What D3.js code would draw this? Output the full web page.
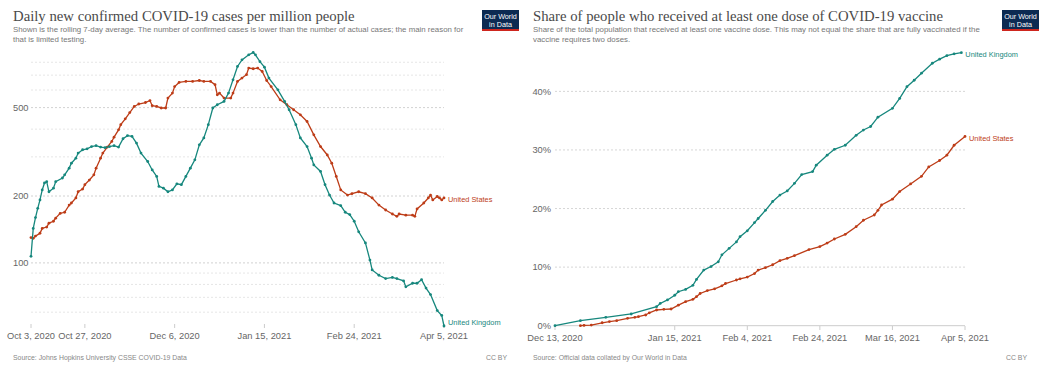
<!DOCTYPE html>
<html>
<head>
<meta charset="utf-8">
<script src="https://cdn.jsdelivr.net/npm/d3@7"></script>
<style>
  body { margin: 0; background: #fff; }
  svg { display: block; }
  text { font-family: "Liberation Sans", Arial, sans-serif; }
  .title { font-family: "Liberation Serif", serif; fill: #4a4a4a; font-size: 15px; }
  .subtitle { fill: #777; font-size: 7.8px; }
  .tick-label { fill: #666; font-size: 9.3px; }
  .source { fill: #888; font-size: 6.9px; }
</style>
</head>
<body>
<svg id="chart" width="1050" height="370"></svg>
<script>
// daily new confirmed cases per million (7-day avg)
const ukCases = [
  ['2020-10-03', 107], ['2020-10-04', 143], ['2020-10-05', 160], ['2020-10-06', 176], ['2020-10-07', 192],
  ['2020-10-08', 213], ['2020-10-09', 229], ['2020-10-10', 232], ['2020-10-11', 209], ['2020-10-13', 217],
  ['2020-10-14', 232], ['2020-10-17', 241], ['2020-10-18', 249], ['2020-10-20', 267], ['2020-10-21', 281],
  ['2020-10-23', 296], ['2020-10-24', 312], ['2020-10-26', 323], ['2020-10-28', 326], ['2020-10-30', 334],
  ['2020-11-01', 337], ['2020-11-03', 332], ['2020-11-05', 330], ['2020-11-07', 334], ['2020-11-09', 337],
  ['2020-11-11', 332], ['2020-11-13', 362], ['2020-11-15', 374], ['2020-11-17', 371], ['2020-11-19', 346],
  ['2020-11-21', 312], ['2020-11-24', 286], ['2020-11-26', 262], ['2020-11-28', 245], ['2020-11-29', 221],
  ['2020-12-01', 217], ['2020-12-03', 209], ['2020-12-05', 213], ['2020-12-07', 227], ['2020-12-09', 225],
  ['2020-12-11', 245], ['2020-12-13', 267], ['2020-12-15', 291], ['2020-12-17', 340], ['2020-12-19', 365],
  ['2020-12-21', 419], ['2020-12-23', 498], ['2020-12-25', 515], ['2020-12-28', 533], ['2020-12-30', 581],
  ['2021-01-01', 667], ['2021-01-03', 766], ['2021-01-05', 820], ['2021-01-08', 864], ['2021-01-10', 885],
  ['2021-01-11', 864], ['2021-01-13', 805], ['2021-01-15', 760], ['2021-01-17', 679], ['2021-01-21', 601],
  ['2021-01-24', 533], ['2021-01-26', 489], ['2021-01-29', 419], ['2021-01-31', 365], ['2021-02-03', 334],
  ['2021-02-05', 296], ['2021-02-06', 276], ['2021-02-09', 258], ['2021-02-11', 225], ['2021-02-13', 202],
  ['2021-02-15', 186], ['2021-02-18', 181], ['2021-02-20', 169], ['2021-02-22', 165], ['2021-02-24', 154],
  ['2021-02-26', 138], ['2021-03-01', 123], ['2021-03-03', 103], ['2021-03-04', 93], ['2021-03-07', 88],
  ['2021-03-10', 85], ['2021-03-13', 86], ['2021-03-15', 85], ['2021-03-18', 83], ['2021-03-19', 78],
  ['2021-03-22', 81], ['2021-03-24', 81], ['2021-03-26', 84], ['2021-03-28', 77], ['2021-03-30', 72],
  ['2021-04-02', 61], ['2021-04-04', 58], ['2021-04-05', 52]
];

const usCases = [
  ['2020-10-03', 130], ['2020-10-04', 129], ['2020-10-05', 132], ['2020-10-07', 136], ['2020-10-08', 143],
  ['2020-10-10', 145], ['2020-10-11', 151], ['2020-10-13', 154], ['2020-10-14', 159], ['2020-10-16', 167],
  ['2020-10-18', 169], ['2020-10-20', 182], ['2020-10-21', 186], ['2020-10-23', 196], ['2020-10-24', 209],
  ['2020-10-26', 215], ['2020-10-27', 225], ['2020-10-29', 236], ['2020-10-31', 249], ['2020-11-01', 267],
  ['2020-11-03', 296], ['2020-11-04', 312], ['2020-11-06', 332], ['2020-11-08', 352], ['2020-11-09', 368],
  ['2020-11-11', 397], ['2020-11-12', 419], ['2020-11-14', 445], ['2020-11-16', 475], ['2020-11-18', 506],
  ['2020-11-20', 519], ['2020-11-23', 527], ['2020-11-25', 538], ['2020-11-26', 510], ['2020-11-28', 506],
  ['2020-11-30', 498], ['2020-12-02', 498], ['2020-12-03', 552], ['2020-12-05', 581], ['2020-12-06', 622],
  ['2020-12-08', 649], ['2020-12-11', 656], ['2020-12-14', 656], ['2020-12-17', 662], ['2020-12-19', 656],
  ['2020-12-22', 656], ['2020-12-24', 634], ['2020-12-25', 571], ['2020-12-26', 581], ['2020-12-28', 552],
  ['2020-12-31', 552], ['2021-01-01', 581], ['2021-01-03', 656], ['2021-01-05', 679], ['2021-01-07', 703],
  ['2021-01-08', 753], ['2021-01-10', 748], ['2021-01-12', 753], ['2021-01-14', 727], ['2021-01-16', 662],
  ['2021-01-18', 622], ['2021-01-22', 542], ['2021-01-25', 515], ['2021-01-28', 489], ['2021-01-31', 464],
  ['2021-02-03', 433], ['2021-02-06', 377], ['2021-02-09', 334], ['2021-02-12', 306], ['2021-02-14', 281],
  ['2021-02-16', 245], ['2021-02-18', 213], ['2021-02-21', 202], ['2021-02-23', 205], ['2021-02-26', 209],
  ['2021-03-01', 205], ['2021-03-04', 196], ['2021-03-07', 182], ['2021-03-10', 173], ['2021-03-13', 166],
  ['2021-03-15', 162], ['2021-03-16', 166], ['2021-03-19', 164], ['2021-03-22', 164], ['2021-03-23', 162],
  ['2021-03-24', 175], ['2021-03-27', 186], ['2021-03-29', 196], ['2021-03-30', 202], ['2021-03-31', 192],
  ['2021-04-02', 199], ['2021-04-03', 196], ['2021-04-04', 192], ['2021-04-05', 196]
];

// share of population with at least one dose, in %
const ukVax = [
  ['2020-12-13', 0], ['2020-12-20', 0.85], ['2020-12-27', 1.43], ['2021-01-03', 2.0], ['2021-01-10', 3.25],
  ['2021-01-11', 3.8], ['2021-01-13', 4.4], ['2021-01-15', 5.2], ['2021-01-16', 5.8], ['2021-01-18', 6.2],
  ['2021-01-20', 6.9], ['2021-01-21', 7.9], ['2021-01-23', 9.5], ['2021-01-25', 10.1], ['2021-01-27', 10.9],
  ['2021-01-28', 12.1], ['2021-01-30', 13.2], ['2021-02-01', 14.3], ['2021-02-02', 15.2], ['2021-02-04', 16.2],
  ['2021-02-06', 17.6], ['2021-02-07', 18.3], ['2021-02-09', 19.7], ['2021-02-11', 21.2], ['2021-02-13', 22.3],
  ['2021-02-15', 23.0], ['2021-02-17', 24.3], ['2021-02-19', 25.8], ['2021-02-22', 26.3], ['2021-02-23', 27.4],
  ['2021-02-26', 29.1], ['2021-02-28', 30.1], ['2021-03-03', 30.8], ['2021-03-06', 32.5], ['2021-03-08', 33.4],
  ['2021-03-10', 34.0], ['2021-03-12', 35.6], ['2021-03-16', 37.1], ['2021-03-18', 38.8], ['2021-03-20', 40.8],
  ['2021-03-22', 41.9], ['2021-03-24', 43.1], ['2021-03-27', 44.8], ['2021-03-29', 45.5], ['2021-03-31', 46.1],
  ['2021-04-02', 46.4], ['2021-04-04', 46.6]
];

const usVax = [
  ['2020-12-20', 0], ['2020-12-21', 0.05], ['2020-12-23', 0.1], ['2020-12-26', 0.5], ['2020-12-28', 0.7],
  ['2020-12-30', 0.85], ['2021-01-02', 1.26], ['2021-01-04', 1.43], ['2021-01-05', 1.54], ['2021-01-07', 1.83],
  ['2021-01-08', 2.2], ['2021-01-10', 2.68], ['2021-01-12', 2.8], ['2021-01-14', 2.85], ['2021-01-16', 3.5],
  ['2021-01-18', 4.1], ['2021-01-20', 4.5], ['2021-01-21', 4.95], ['2021-01-22', 5.5], ['2021-01-24', 6.0],
  ['2021-01-26', 6.3], ['2021-01-28', 6.8], ['2021-01-29', 7.2], ['2021-02-01', 7.8], ['2021-02-02', 8.0],
  ['2021-02-04', 8.3], ['2021-02-06', 8.9], ['2021-02-07', 9.5], ['2021-02-09', 9.9], ['2021-02-11', 10.4],
  ['2021-02-13', 11.1], ['2021-02-15', 11.5], ['2021-02-17', 11.95], ['2021-02-21', 13.0], ['2021-02-24', 13.5],
  ['2021-02-26', 14.1], ['2021-02-28', 14.8], ['2021-03-03', 15.6], ['2021-03-06', 16.9], ['2021-03-08', 18.0],
  ['2021-03-11', 18.9], ['2021-03-12', 19.7], ['2021-03-13', 20.6], ['2021-03-16', 21.6], ['2021-03-18', 22.9],
  ['2021-03-21', 24.2], ['2021-03-24', 25.5], ['2021-03-26', 27.1], ['2021-03-29', 28.2], ['2021-03-31', 29.1],
  ['2021-04-02', 30.8], ['2021-04-05', 32.3]
];

const casesDateTicks = ['2020-10-03', '2020-10-27', '2020-12-06', '2021-01-15', '2021-02-24', '2021-04-05'];
const casesMajorTicks = [100, 200, 500];
const casesMinorTicks = [60, 70, 80, 90, 300, 400, 600, 700, 800];
const vaxDateTicks = ['2020-12-13', '2021-01-15', '2021-02-04', '2021-02-24', '2021-03-16', '2021-04-05'];
const vaxTicks = [0, 10, 20, 30, 40];

const UK_COLOR = '#16877d';
const US_COLOR = '#bd3c17';

const parseDate = d3.timeParse('%Y-%m-%d');
const fmtDate = d3.timeFormat('%b %-d, %Y');
const svg = d3.select('#chart');

// shrink/grow a text's font so it spans the given width
const fitWidth = (sel, width) => {
  const len = sel.node().getComputedTextLength();
  const fs = parseFloat(sel.style('font-size'));
  sel.style('font-size', (fs * width / len) + 'px');
  return sel;
};

const drawHeader = (g, title, titleW, sub1, sub1W, sub2, source) => {
  const t = g.append('text').attr('class', 'title').attr('x', 13).attr('y', 21).text(title);
  fitWidth(t, titleW);
  const s1 = g.append('text').attr('class', 'subtitle').attr('x', 13).attr('y', 32).text(sub1);
  fitWidth(s1, sub1W);
  g.append('text').attr('class', 'subtitle').attr('x', 13).attr('y', 42)
    .style('font-size', s1.style('font-size')).text(sub2);

  // OWID logo
  const logo = g.append('g').attr('transform', 'translate(482,10)');
  logo.append('rect').attr('width', 37).attr('height', 20).attr('fill', '#0c2a52');
  logo.append('rect').attr('y', 19).attr('width', 37).attr('height', 2).attr('fill', '#ce261e');
  logo.append('text').attr('x', 18.5).attr('y', 8.5).attr('text-anchor', 'middle')
    .attr('fill', '#fff').style('font-size', '7.2px').text('Our World');
  logo.append('text').attr('x', 18.5).attr('y', 16.5).attr('text-anchor', 'middle')
    .attr('fill', '#fff').style('font-size', '7.2px').text('in Data');

  g.append('text').attr('class', 'source').attr('x', 13).attr('y', 360).text(source);
  g.append('text').attr('class', 'source').attr('x', 507).attr('y', 360)
    .attr('text-anchor', 'end').text('CC BY');
};

const drawSeries = (g, data, x, y, color, label, labelY) => {
  const pts = data.map(d => ({ date: parseDate(d[0]), value: d[1] }));
  const line = d3.line().x(d => x(d.date)).y(d => y(d.value));
  g.append('path').datum(pts)
    .attr('d', line)
    .attr('fill', 'none')
    .attr('stroke', color)
    .attr('stroke-width', 1.3);
  g.selectAll(null).data(pts).enter().append('circle')
    .attr('cx', d => x(d.date))
    .attr('cy', d => y(d.value))
    .attr('r', 1.4)
    .attr('fill', color);
  const last = pts[pts.length - 1];
  g.append('text')
    .attr('x', x(last.date) + 4)
    .attr('y', labelY == null ? y(last.value) + 1.5 : labelY)
    .attr('dy', '0.35em')
    .attr('fill', color)
    .style('font-size', '7.4px')
    .text(label);
};

const drawDateAxis = (g, x, ticks, yPos) => {
  const dates = ticks.map(parseDate);
  g.selectAll(null).data(dates).enter().append('line')
    .attr('x1', d => x(d)).attr('x2', d => x(d))
    .attr('y1', yPos).attr('y2', yPos + 4)
    .attr('stroke', '#ccc');
  g.selectAll(null).data(dates).enter().append('text')
    .attr('class', 'tick-label')
    .attr('x', d => x(d))
    .attr('y', yPos + 15)
    .attr('text-anchor', 'middle')
    .text(d => fmtDate(d));
};

// ---- left panel: cases (log scale) ----
const left = svg.append('g');
drawHeader(left,
  'Daily new confirmed COVID-19 cases per million people', 342,
  'Shown is the rolling 7-day average. The number of confirmed cases is lower than the number of actual cases; the main reason for', 451,
  'that is limited testing.',
  'Source: Johns Hopkins University CSSE COVID-19 Data');

const xCases = d3.scaleTime()
  .domain([parseDate(casesDateTicks[0]), parseDate(casesDateTicks[casesDateTicks.length - 1])])
  .range([31, 444]);
const casesExtent = d3.extent(ukCases.concat(usCases), d => d[1]);
const yCases = d3.scaleLog().domain(casesExtent).range([326, 52.5]);

left.selectAll(null).data(casesMinorTicks).enter().append('line')
  .attr('x1', 31).attr('x2', 444)
  .attr('y1', d => yCases(d)).attr('y2', d => yCases(d))
  .attr('stroke', '#e6e6e6').attr('stroke-dasharray', '2,2');
left.selectAll(null).data(casesMajorTicks).enter().append('line')
  .attr('x1', 31).attr('x2', 444)
  .attr('y1', d => yCases(d)).attr('y2', d => yCases(d))
  .attr('stroke', '#d2d2d2').attr('stroke-dasharray', '2,2');
left.selectAll(null).data(casesMajorTicks).enter().append('text')
  .attr('class', 'tick-label')
  .attr('x', 13).attr('y', d => yCases(d)).attr('dy', '0.35em')
  .text(d => d);

drawDateAxis(left, xCases, casesDateTicks, 324);
drawSeries(left, usCases, xCases, yCases, US_COLOR, 'United States');
drawSeries(left, ukCases, xCases, yCases, UK_COLOR, 'United Kingdom', 322);

// ---- right panel: vaccinations ----
const right = svg.append('g').attr('transform', 'translate(520,0)');
drawHeader(right,
  'Share of people who received at least one dose of COVID-19 vaccine', 410,
  'Share of the total population that received at least one vaccine dose. This may not equal the share that are fully vaccinated if the', 447,
  'vaccine requires two doses.',
  'Source: Official data collated by Our World in Data');

const xVax = d3.scaleTime()
  .domain([parseDate(vaxDateTicks[0]), parseDate(vaxDateTicks[vaxDateTicks.length - 1])])
  .range([35, 445]);
const yVax = d3.scaleLinear()
  .domain([0, d3.max(ukVax.concat(usVax), d => d[1])])
  .range([325.7, 52.7]);

right.selectAll(null).data(vaxTicks).enter().append('line')
  .attr('x1', 35).attr('x2', 445)
  .attr('y1', d => yVax(d)).attr('y2', d => yVax(d))
  .attr('stroke', d => d === 0 ? '#ccc' : '#d6d6d6')
  .attr('stroke-dasharray', d => d === 0 ? null : '2,2');
right.selectAll(null).data(vaxTicks).enter().append('text')
  .attr('class', 'tick-label')
  .attr('x', 31).attr('y', d => yVax(d)).attr('dy', '0.35em')
  .attr('text-anchor', 'end')
  .text(d => d + '%');

drawDateAxis(right, xVax, vaxDateTicks, 326);
drawSeries(right, usVax, xVax, yVax, US_COLOR, 'United States');
drawSeries(right, ukVax, xVax, yVax, UK_COLOR, 'United Kingdom');
</script>
</body>
</html>
